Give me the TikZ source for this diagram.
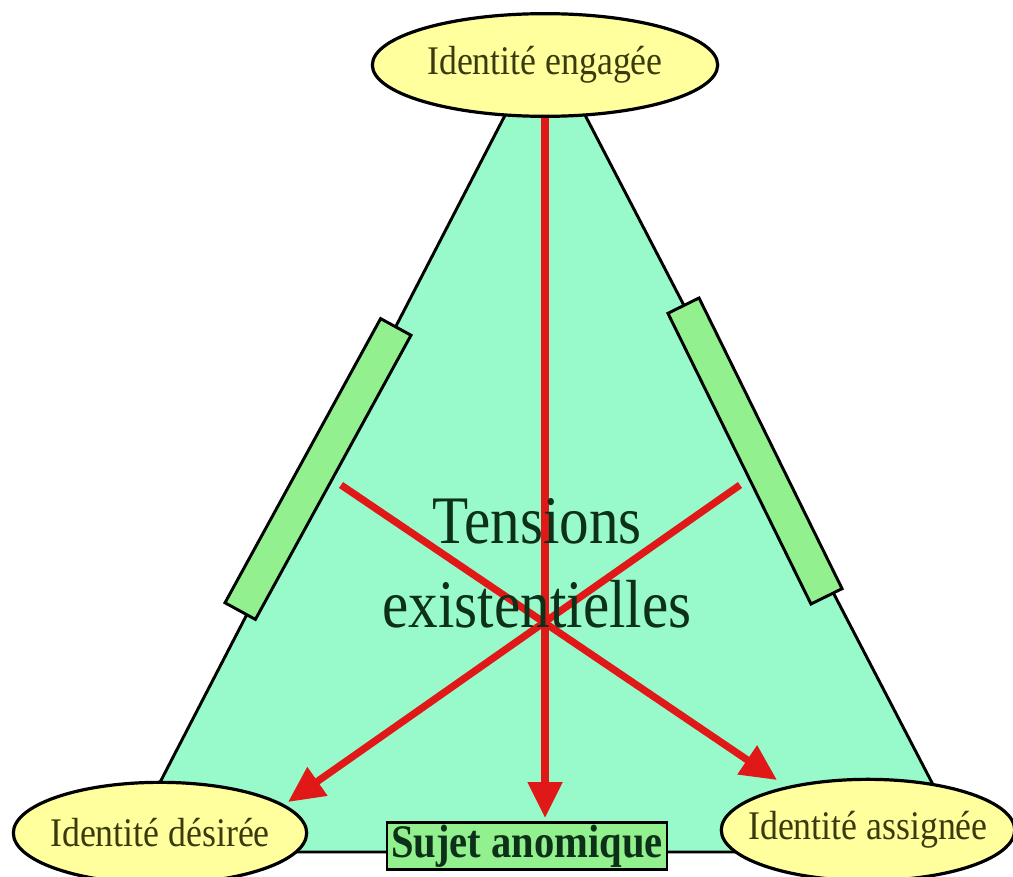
\documentclass[tikz,border=0pt]{standalone}
\usepackage{fontspec}
\setmainfont{Liberation Serif}
\newfontfamily\condserif[FakeStretch=0.88]{Liberation Serif}
\newfontfamily\condtens[FakeStretch=0.87]{Liberation Serif}
\usetikzlibrary{arrows.meta,shapes.geometric}
\definecolor{tri}{HTML}{98FACA}
\definecolor{bar}{HTML}{92F08E}
\definecolor{ell}{HTML}{FFFF9E}
\definecolor{arr}{HTML}{E01818}
\definecolor{elltext}{HTML}{3A3A0C}
\definecolor{tentext}{HTML}{0C3018}
\tikzset{
  ident/.style={ellipse, draw=black, line width=2.4pt, fill=ell, text=elltext, inner ysep=0pt, inner xsep=-12pt, minimum width=220pt, minimum height=76pt, font=\condserif\fontsize{30.5}{34}\selectfont},
  sidebar/.style={rectangle, draw=black, line width=2.2pt, fill=bar, minimum width=243pt, minimum height=26pt, inner sep=0pt},
  redarrow/.style={draw=arr, line width=5.4pt, -{Triangle[length=27pt,width=25pt]}},
}
\begin{document}
\begin{tikzpicture}[x=0.75pt,y=-0.75pt]
\useasboundingbox (0,0) rectangle (1013,877);
% triangle
\coordinate (apex) at (545,38);
\coordinate (bl) at (124,852);
\coordinate (br) at (968,852);
\draw[line width=2.2pt, fill=tri] (apex) -- (bl) -- (br) -- cycle;
% side bars
\node[sidebar, rotate=61.3] (lbar) at (318,469) {};
\node[sidebar, rotate=-63.8] (rbar) at (755,451) {};
% tension lines
\coordinate (lstart) at (341,485);
\coordinate (rstart) at (740,485);
\coordinate (tstart) at (545,112);
\coordinate (ltip) at (288,802);
\coordinate (rtip) at (777,780);
\coordinate (ctip) at (545,818);
\draw[redarrow] (tstart) -- (ctip);
\draw[redarrow] (lstart) -- (rtip);
\draw[redarrow] (rstart) -- (ltip);
% central text
\node[text=tentext, align=center, font=\condtens\fontsize{51}{63}\selectfont, inner sep=0pt] (tens) at (537,563) {Tensions\\existentielles};
% ellipses
\node[ident, minimum width=259pt, minimum height=77pt] (eng) at (545,65) {Identité engagée};
\node[ident] (des) at (160,833) {Identité désirée};
\node[ident] (ass) at (868,830) {Identité assignée};
% subject box
\node[rectangle, draw=black, line width=2.2pt, fill=bar, minimum width=210pt, minimum height=35pt, inner sep=0pt, font=\condtens\bfseries\fontsize{35}{38}\selectfont, text=tentext] (suj) at (527,846) {Sujet anomique};
\end{tikzpicture}
\end{document}
